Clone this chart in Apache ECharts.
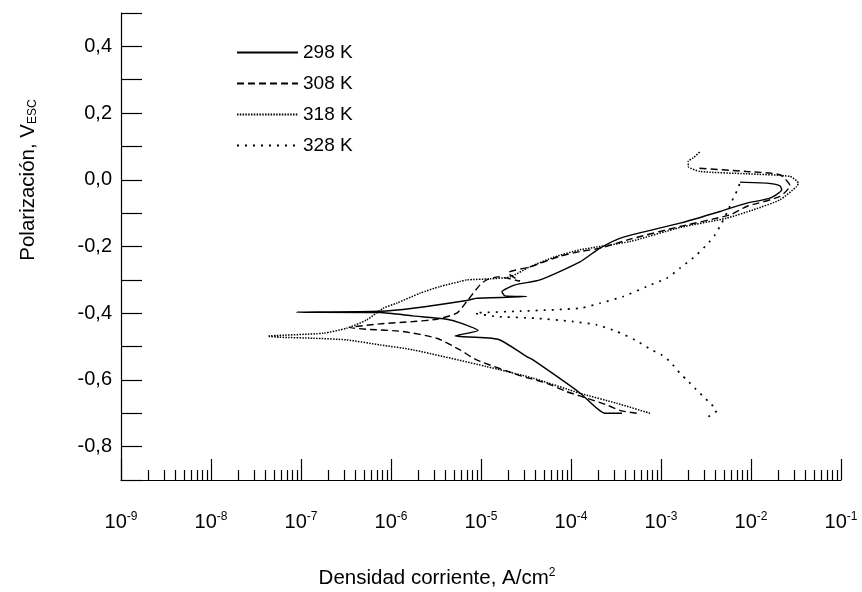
<!DOCTYPE html>
<html><head><meta charset="utf-8">
<script src="https://cdn.jsdelivr.net/npm/echarts@6/dist/echarts.min.js"></script>
<style>html,body{margin:0;padding:0;background:#fff}#c{width:862px;height:592px}</style>
</head><body><div id="c"></div>
<script>
const FONT = '"Liberation Sans", Arial, sans-serif';

// x values are log10 of current density (A/cm2), y values potential (V vs ESC)
const logI_298 = [-3.433,-3.622,-3.900,-4.422,-4.492,-4.811,-5.289,-5.033,-5.233,-5.381,-5.756,-6.122,-7.048,-6.122,-5.756,-5.159,-5.048,-4.492,-4.733,-4.767,-4.622,-4.344,-3.900,-3.678,-3.419,-2.789,-2.344,-2.048,-1.789,-1.659,-1.678,-1.826,-2.122];
const E_298    = [-0.700,-0.700,-0.639,-0.540,-0.530,-0.478,-0.468,-0.452,-0.429,-0.418,-0.408,-0.398,-0.397,-0.394,-0.385,-0.362,-0.355,-0.350,-0.348,-0.336,-0.315,-0.300,-0.246,-0.205,-0.172,-0.130,-0.095,-0.070,-0.055,-0.030,-0.018,-0.010,-0.007];

const logI_308 = [-3.270,-3.450,-3.603,-3.900,-4.048,-4.270,-4.567,-5.048,-5.233,-5.492,-5.863,-6.270,-6.456,-6.122,-5.752,-5.492,-5.270,-5.159,-5.011,-4.937,-4.811,-4.567,-4.700,-4.456,-4.122,-3.900,-3.678,-3.344,-2.789,-2.233,-2.048,-1.678,-1.567,-1.678,-2.048,-2.604];
const E_308    = [-0.700,-0.692,-0.675,-0.648,-0.635,-0.610,-0.587,-0.540,-0.510,-0.475,-0.455,-0.448,-0.443,-0.432,-0.425,-0.418,-0.400,-0.365,-0.315,-0.300,-0.291,-0.304,-0.279,-0.261,-0.229,-0.215,-0.205,-0.178,-0.140,-0.105,-0.080,-0.050,-0.018,0.015,0.025,0.035];

const logI_318 = [-3.122,-3.492,-3.900,-4.418,-4.937,-5.752,-6.122,-6.493,-6.863,-7.233,-7.367,-6.753,-6.493,-6.270,-6.086,-5.937,-5.678,-5.456,-5.233,-5.159,-4.900,-4.678,-4.456,-4.178,-3.900,-3.344,-2.789,-2.270,-1.974,-1.678,-1.492,-1.474,-1.567,-2.048,-2.567,-2.697,-2.697,-2.641,-2.567];
const E_318    = [-0.700,-0.670,-0.640,-0.595,-0.560,-0.510,-0.495,-0.480,-0.475,-0.472,-0.469,-0.460,-0.445,-0.420,-0.385,-0.370,-0.340,-0.320,-0.305,-0.300,-0.297,-0.291,-0.261,-0.231,-0.210,-0.185,-0.143,-0.115,-0.090,-0.060,-0.020,-0.010,0.010,0.018,0.025,0.040,0.055,0.066,0.084];

const logI_328 = [-2.474,-2.381,-2.444,-2.530,-2.622,-2.714,-2.789,-2.900,-2.992,-3.103,-3.289,-3.492,-3.714,-3.974,-4.400,-4.826,-5.067,-4.567,-3.900,-3.678,-3.419,-3.159,-2.937,-2.789,-2.604,-2.493,-2.400,-2.326,-2.252,-2.197,-2.141,-2.122];
const E_328    = [-0.710,-0.692,-0.672,-0.650,-0.625,-0.600,-0.580,-0.545,-0.525,-0.510,-0.480,-0.455,-0.435,-0.425,-0.415,-0.410,-0.400,-0.394,-0.385,-0.370,-0.350,-0.320,-0.295,-0.265,-0.225,-0.195,-0.165,-0.130,-0.090,-0.055,-0.025,-0.005];

const seriesNames = ['298 K','308 K','318 K','328 K'];
const xDecades = [-9,-8,-7,-6,-5,-4,-3,-2,-1];

function pairs(a, b) { return a.map((v, i) => [v, b[i]]); }
const minorTicks = [];
for (let d = xDecades[0]; d < xDecades[xDecades.length - 1]; d++) {
  for (let k = 2; k <= 9; k++) minorTicks.push(d + Math.log10(k));
}

const black = '#000';
const axisLineStyle = { color: black, width: 1.2 };
const chart = echarts.init(document.getElementById('c'));
const gridPos = { left: 121, right: 21, top: 13, bottom: 112 };

const styles = [
  { type: 'solid', width: 1.4 },
  { type: [7, 4], width: 1.4 },
  { type: [1.5, 1.3], width: 1.5 },
  { type: [2, 6], width: 1.7 }
];
const dataSets = [pairs(logI_298, E_298), pairs(logI_308, E_308), pairs(logI_318, E_318), pairs(logI_328, E_328)];

chart.setOption({
  animation: false,
  backgroundColor: '#fff',
  textStyle: { fontFamily: FONT },
  grid: [Object.assign({}, gridPos), Object.assign({}, gridPos)],
  xAxis: [
    {
      type: 'value', gridIndex: 0, min: xDecades[0], max: xDecades[xDecades.length - 1], interval: 1,
      axisLine: { onZero: false, lineStyle: axisLineStyle },
      axisTick: { inside: true, length: 21, lineStyle: axisLineStyle },
      splitLine: { show: false },
      axisLabel: {
        margin: 31, color: black,
        formatter: v => '{b|10}{s|' + Math.round(v) + '}',
        rich: {
          b: { fontSize: 20, fontFamily: FONT, color: black, lineHeight: 22 },
          s: { fontSize: 12, fontFamily: FONT, color: black, verticalAlign: 'top', lineHeight: 12 }
        }
      }
    },
    {
      type: 'value', gridIndex: 1, min: xDecades[0], max: xDecades[xDecades.length - 1],
      axisLine: { show: false, onZero: false },
      axisTick: { inside: true, length: 10, customValues: minorTicks, lineStyle: axisLineStyle },
      axisLabel: { show: false },
      splitLine: { show: false }
    }
  ],
  yAxis: [
    {
      type: 'value', gridIndex: 0, min: -0.9, max: 0.5, interval: 0.1,
      axisLine: { show: true, onZero: false, lineStyle: axisLineStyle },
      axisTick: { show: true, inside: true, length: 21, lineStyle: axisLineStyle },
      splitLine: { show: false },
      axisLabel: {
        margin: 9, color: black, fontSize: 20, fontFamily: FONT,
        formatter: v => {
          const k = Math.round(v * 10);
          if (k % 2 !== 0) return '';
          return (k / 10).toFixed(1).replace('.', ',');
        }
      }
    },
    { type: 'value', gridIndex: 1, min: -0.9, max: 0.5, show: false }
  ],
  legend: {
    orient: 'vertical', left: 236, top: 43, padding: 0, itemWidth: 61, itemHeight: 18, itemGap: 12,
    data: seriesNames,
    itemStyle: { opacity: 0 },
    textStyle: { fontSize: 19, fontFamily: FONT, color: black, lineHeight: 18 },
    selectedMode: false
  },
  series: seriesNames.map((name, i) => ({
    name, type: 'line', xAxisIndex: 0, yAxisIndex: 0,
    data: dataSets[i], symbol: 'none', smooth: 0.2,
    lineStyle: { color: black, width: styles[i].width, type: styles[i].type },
    itemStyle: { color: black }
  })),
  graphic: [
    {
      type: 'text', x: 437, y: 578,
      style: {
        text: '{a|Densidad corriente, A/cm}{s|2}', align: 'center', verticalAlign: 'middle',
        rich: {
          a: { fontSize: 20.5, fontFamily: FONT, fill: black, lineHeight: 22 },
          s: { fontSize: 12, fontFamily: FONT, fill: black, verticalAlign: 'top', lineHeight: 12 }
        }
      }
    },
    {
      type: 'text', x: 28, y: 180, rotation: Math.PI / 2,
      style: {
        text: '{a|Polarización, V}{s|ESC}', align: 'center', verticalAlign: 'middle',
        rich: {
          a: { fontSize: 20.5, fontFamily: FONT, fill: black, lineHeight: 22 },
          s: { fontSize: 12, fontFamily: FONT, fill: black, verticalAlign: 'bottom', lineHeight: 12 }
        }
      }
    }
  ]
});
</script></body></html>
